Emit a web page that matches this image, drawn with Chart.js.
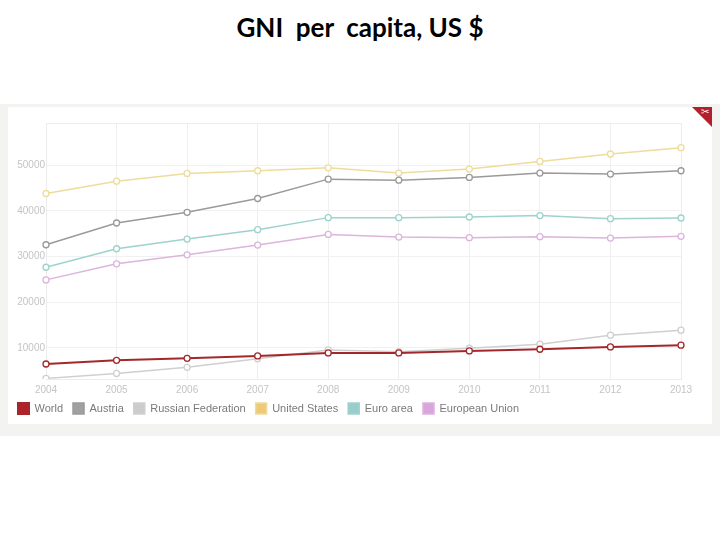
<!DOCTYPE html>
<html>
<head>
<meta charset="utf-8">
<script src="https://cdn.jsdelivr.net/npm/chart.js@4.4.1/dist/chart.umd.min.js"></script>
<style>
    body { margin: 0; width: 720px; height: 540px; background: #fff; position: relative; overflow: hidden; }
    #title { position: absolute; top: 11px; left: 0; width: 720px; text-align: center; white-space: pre;
             font-family: Lato, "Open Sans", sans-serif; font-weight: bold; font-size: 26px; color: #000; }
    #frame { position: absolute; left: 0; top: 104px; width: 720px; height: 332px; background: #f3f3f1; }
    #panel { position: absolute; left: 8px; top: 107px; width: 704px; height: 317px; background: #fff; }
    #corner { position: absolute; left: 692px; top: 107px; width: 0; height: 0;
              border-top: 20px solid #b3202c; border-left: 20px solid transparent; }
    #scissors { position: absolute; left: 701px; top: 106px; color: #fff; font-size: 10px; font-family: "DejaVu Sans"; }
</style>
</head>
<body>
<div id="title">GNI  per  capita, US $</div>
<div id="frame"></div>
<div id="panel"><canvas id="gni" width="704" height="317"></canvas></div>
<div id="corner"></div>
<div id="scissors">✂</div>
<script>
const years = ['2004', '2005', '2006', '2007', '2008', '2009', '2010', '2011', '2012', '2013'];
const y_ticks = [10000, 20000, 30000, 40000, 50000];

const world = [6480, 7290, 7730, 8240, 8900, 8900, 9340, 9710, 10220, 10590];
const austria = [32570, 37320, 39670, 42680, 46920, 46700, 47290, 48240, 48020, 48750];
const russia = [3330, 4430, 5750, 7640, 9560, 9180, 9930, 10810, 12790, 13890];
const united_states = [43780, 46480, 48170, 48750, 49400, 48240, 49120, 50800, 52420, 53800];
const euro_area = [27650, 31690, 33800, 35860, 38500, 38500, 38640, 38940, 38280, 38420];
const european_union = [24880, 28390, 30370, 32490, 34830, 34240, 34110, 34330, 34020, 34400];

const tick_font = { family: '"Liberation Sans", Arial, sans-serif', size: 10 };

function series(label, data, line, box, width) {
    return {
        label: label,
        data: data,
        borderColor: line,
        backgroundColor: box,
        borderWidth: width,
        pointRadius: 3,
        pointBorderWidth: 1.3,
        pointBackgroundColor: '#fff',
        pointBorderColor: line,
        tension: 0
    };
}

// thin frame round the plot area
const plot_frame = {
    id: 'plot_frame',
    beforeDatasetsDraw(chart) {
        const a = chart.chartArea;
        const ctx = chart.ctx;
        ctx.save();
        ctx.strokeStyle = '#ececec';
        ctx.lineWidth = 1;
        ctx.strokeRect(a.left + 0.5, a.top + 0.5, a.right - a.left, a.bottom - a.top);
        ctx.restore();
    }
};

document.addEventListener("DOMContentLoaded", function() {
    const ctx = document.getElementById('gni');
    new Chart(ctx, {
        type: 'line',
        plugins: [plot_frame],
        data: {
            labels: years,
            datasets: [
                series('World', world, '#a3282c', '#b02228', 2),
                series('Austria', austria, '#9a9a9a', '#a0a0a0', 1.5),
                series('Russian Federation', russia, '#cfcfcf', '#cccccc', 1.5),
                series('United States', united_states, '#eedc9c', '#efc878', 1.5),
                series('Euro area', euro_area, '#9dd3cc', '#99cccc', 1.5),
                series('European Union', european_union, '#dcb4dc', '#d9a6dc', 1.5)
            ]
        },
        options: {
            responsive: false,
            animation: false,
            layout: { padding: { left: 0, right: 31, top: 16, bottom: 0 } },
            plugins: {
                legend: {
                    position: 'bottom',
                    align: 'start',
                    labels: {
                        boxWidth: 11,
                        boxHeight: 11,
                        padding: 10,
                        color: '#7a7a7a',
                        font: { family: '"Liberation Sans", Arial, sans-serif', size: 11 }
                    }
                },
                tooltip: { enabled: false }
            },
            scales: {
                x: {
                    offset: false,
                    afterFit: function(scale) {
                        scale.height = 14;
                        // labels sit a little into the legend band, so don't clip them
                        scale._computeLabelArea = function() { return undefined; };
                    },
                    grid: { color: '#efefef', tickLength: 0, drawTicks: false },
                    border: { color: '#e6e6e6' },
                    ticks: {
                        color: '#c4c4c4',
                        padding: 5,
                        maxRotation: 0,
                        font: tick_font
                    }
                },
                y: {
                    min: 3200,
                    max: 59200,
                    afterBuildTicks: function(scale) {
                        scale.ticks = y_ticks.map(v => ({ value: v }));
                    },
                    afterFit: function(scale) {
                        scale.width = 38;
                    },
                    grid: { color: '#f1f1f1', drawTicks: false },
                    border: { color: '#e6e6e6' },
                    ticks: {
                        color: '#c4c4c4',
                        padding: 1,
                        callback: function(value) { return String(value); },
                        font: tick_font
                    }
                }
            }
        }
    });
});
</script>
</body>
</html>
